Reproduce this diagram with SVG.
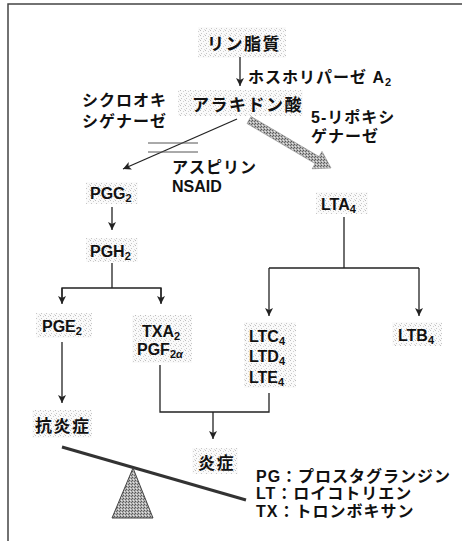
<svg xmlns="http://www.w3.org/2000/svg" width="462" height="541" viewBox="0 0 462 541">
<defs>
<pattern id="grain" width="5" height="5" patternUnits="userSpaceOnUse">
<rect width="5" height="5" fill="#fafafa"/>
<rect x="0" y="0" width="1" height="1" fill="#bdbdbd"/>
<rect x="3" y="1" width="1" height="1" fill="#d0d0d0"/>
<rect x="1" y="3" width="1" height="1" fill="#c6c6c6"/>
<rect x="4" y="4" width="1" height="1" fill="#dadada"/>
</pattern>
<pattern id="stip" width="3" height="3" patternUnits="userSpaceOnUse">
<rect width="3" height="3" fill="#b0b0b0"/>
<rect x="0" y="0" width="1" height="1" fill="#555"/>
<rect x="2" y="1" width="1" height="1" fill="#666"/>
<rect x="1" y="2" width="1" height="1" fill="#e6e6e6"/>
</pattern>
<marker id="ah" markerWidth="10" markerHeight="10" refX="9" refY="5" orient="auto" markerUnits="userSpaceOnUse">
<path d="M1,1 L9,5 L1,9 L3,5 Z" fill="#222"/>
</marker>
</defs>
<style>
text{font-family:"Liberation Sans","Noto Sans CJK JP",sans-serif;fill:#111}
.j{font-size:16px;font-weight:bold;letter-spacing:1px}
.jb{font-size:17px;font-weight:bold;letter-spacing:1.5px}
.l{font-size:16px;font-weight:bold}
.s{font-size:11px}
.bg{fill:url(#grain)}
.ln{stroke:#222;stroke-width:1.3;fill:none}
</style>
<polyline points="8,541 8,4 462,4" fill="none" stroke="#444" stroke-width="1.5"/>

<g id="n-rinshishitsu"><rect class="bg" x="198" y="27" width="88" height="31"/><text class="jb" x="207" y="50">リン脂質</text></g>
<g id="n-arakidon"><rect class="bg" x="178" y="90" width="125" height="26"/><text class="jb" x="192" y="111">アラキドン酸</text></g>
<g id="l-phospholipase"><text class="j" x="248" y="83">ホスホリパーゼ A<tspan class="s" dy="3">2</tspan></text></g>
<g id="l-cox"><text class="j" x="82" y="106">シクロオキ</text><text class="j" x="82" y="127">シゲナーゼ</text></g>
<g id="l-lox"><text class="j" x="311" y="123">5-リポキシ</text><text class="j" x="311" y="142">ゲナーゼ</text></g>
<g id="l-aspirin"><text class="j" x="172" y="173">アスピリン</text><text class="l" x="172" y="192">NSAID</text></g>

<g id="n-pgg2"><rect class="bg" x="86" y="182" width="52" height="22"/><text class="l" x="90" y="199">PGG<tspan class="s" dy="3">2</tspan></text></g>
<g id="n-pgh2"><rect class="bg" x="86" y="238" width="52" height="24"/><text class="l" x="90" y="257">PGH<tspan class="s" dy="3">2</tspan></text></g>
<g id="n-pge2"><rect class="bg" x="36" y="313" width="56" height="25"/><text class="l" x="42" y="332">PGE<tspan class="s" dy="3">2</tspan></text></g>
<g id="n-txa2"><rect class="bg" x="132" y="315" width="60" height="48"/><text class="l" x="142" y="337">TXA<tspan class="s" dy="3">2</tspan></text><text class="l" x="137" y="355">PGF<tspan class="s" dy="3">2<tspan font-style="italic">α</tspan></tspan></text></g>
<g id="n-lta4"><rect class="bg" x="316" y="192" width="52" height="22"/><text class="l" x="321" y="210">LTA<tspan class="s" dy="3">4</tspan></text></g>
<g id="n-ltc4"><rect class="bg" x="244" y="322" width="52" height="66"/><text class="l" x="249" y="342">LTC<tspan class="s" dy="3">4</tspan></text><text class="l" x="249" y="362">LTD<tspan class="s" dy="3">4</tspan></text><text class="l" x="249" y="383">LTE<tspan class="s" dy="3">4</tspan></text></g>
<g id="n-ltb4"><rect class="bg" x="392" y="322" width="50" height="24"/><text class="l" x="398" y="341">LTB<tspan class="s" dy="3">4</tspan></text></g>
<g id="n-antiinflam"><rect class="bg" x="32" y="410" width="60" height="28"/><text class="jb" x="35" y="432">抗炎症</text></g>
<g id="n-inflam"><rect class="bg" x="192" y="448" width="46" height="26"/><text class="jb" x="198" y="469">炎症</text></g>

<g id="legend">
<text class="j" x="256" y="482">PG：プロスタグランジン</text>
<text class="j" x="256" y="499">LT：ロイコトリエン</text>
<text class="j" x="256" y="517">TX：トロンボキサン</text>
</g>

<g id="connectors">
<line class="ln" x1="240" y1="57" x2="240" y2="86" marker-end="url(#ah)"/>
<line class="ln" x1="237" y1="119" x2="123" y2="169" stroke-width="1" marker-end="url(#ah)"/>
<line x1="148" y1="143" x2="198" y2="143" stroke="#555" stroke-width="1"/>
<line x1="148" y1="152" x2="198" y2="152" stroke="#555" stroke-width="1"/>
<polygon points="251,116.5 319.1,156.6 322,151.4 331,168 312.2,168.8 315.1,163.6 247,123.5" fill="url(#stip)" stroke="#888" stroke-width="0.6"/>
<line class="ln" x1="112" y1="207" x2="112" y2="230" marker-end="url(#ah)"/>
<polyline class="ln" points="112,263 112,288"/>
<polyline class="ln" points="62,303 62,288 161,288 161,303"/>
<line class="ln" x1="62" y1="288" x2="62" y2="304" marker-end="url(#ah)"/>
<line class="ln" x1="161" y1="288" x2="161" y2="304" marker-end="url(#ah)"/>
<line class="ln" x1="62" y1="342" x2="62" y2="403" marker-end="url(#ah)"/>
<polyline class="ln" points="160,365 160,412 269,412 269,393"/>
<line class="ln" x1="213" y1="412" x2="213" y2="439" marker-end="url(#ah)"/>
<line class="ln" x1="344" y1="217" x2="344" y2="268"/>
<polyline class="ln" points="269,268 419,268"/>
<line class="ln" x1="269" y1="268" x2="269" y2="316" marker-end="url(#ah)"/>
<line class="ln" x1="419" y1="268" x2="419" y2="316" marker-end="url(#ah)"/>
</g>

<g id="seesaw">
<line x1="62" y1="447" x2="246" y2="500" stroke="#333" stroke-width="3"/>
<polygon points="133,468 112,518 153,518" fill="url(#stip)" stroke="#444" stroke-width="1"/>
</g>
</svg>
